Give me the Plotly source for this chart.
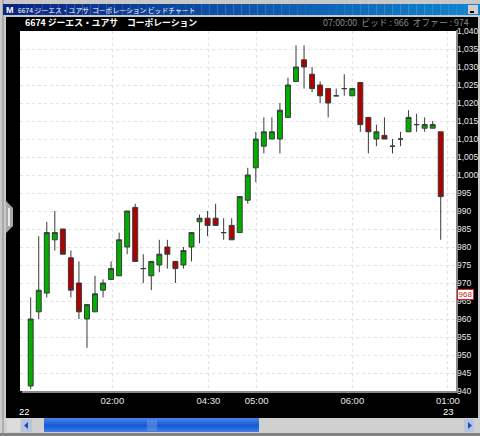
import plotly.graph_objects as go

# Candle data (prices)
opens  = [941.4,962,967.2,982,985,977,970,960,962,968,971,972,980,991,974,972,975,980,976,975,980,987,988,988,984,986,984,993,1002,1008,1010,1010,1016,1026,1032,1028,1025,1024,1022,1024,1022,1025.7,1016,1010,1011,1008,1010,1012,1014,1013,1013,1012]
closes = [960,968,984,984,978,968,962,964,967,970,974,982,990,976,974,976,978,978,974,979,984,988,986,986,984,982,994,1000,1010,1012,1012,1018,1025,1030,1030,1024,1022,1020,1022,1024,1024,1014,1012,1012,1010,1008,1010,1016,1014,1014,1014,994]
highs  = [966,983,987,990,985,979,976,964,972,971,976,984,990,992,978,976,982,982,976,980,984,989,990,992,988,988,994,1002,1012,1016,1016,1020,1027,1036,1036,1030,1026,1024,1024,1028,1024,1025.7,1016,1014,1016,1010,1012,1018,1017,1016,1015,1012]
lows   = [940.5,960,966,979,978,966,960,952,962,966,971,972,978,976,970,968,973,974,970,974,976,981,983,986,982,982,984,992,998,1006,1010,1006,1016,1026,1024,1023,1020,1016,1022,1022,1022,1012,1006,1008,1010,1006,1008,1012,1012,1012,1013,982]
candle_index = list(range(len(opens)))

price_ticks = list(range(940, 1045, 5))
time_tick_pos = [10.15, 22.1, 28.1, 40.0, 51.9]
time_tick_labels = ["02:00", "04:30", "05:00", "06:00", "01:00"]

W, H = 480, 436
PL, PR, PT, PB = 20, 456, 31, 391


def lerp(c1, c2, t):
    return "rgb(%d,%d,%d)" % tuple(round(a + (b - a) * t) for a, b in zip(c1, c2))


fig = go.Figure(go.Candlestick(
    x=candle_index, open=opens, high=highs, low=lows, close=closes,
    whiskerwidth=0,
    increasing=dict(fillcolor="#00AE00", line=dict(color="#3a3a3a", width=1)),
    decreasing=dict(fillcolor="#B00000", line=dict(color="#3a3a3a", width=1)),
    hoverinfo="skip", showlegend=False,
))

shapes = []


def rect(x0, y0, x1, y1, color, layer="above"):
    shapes.append(dict(type="rect", xref="paper", yref="paper", layer=layer,
                       x0=x0 / W, x1=x1 / W, y0=1 - y0 / H, y1=1 - y1 / H,
                       fillcolor=color, line=dict(width=0)))


def line(x0, y0, x1, y1, color, width=1, layer="above"):
    shapes.append(dict(type="line", xref="paper", yref="paper", layer=layer,
                       x0=x0 / W, x1=x1 / W, y0=1 - y0 / H, y1=1 - y1 / H,
                       line=dict(color=color, width=width)))


def poly(points, color):
    d = "M " + " L ".join("%.5f,%.5f" % (x / W, 1 - y / H) for x, y in points) + " Z"
    shapes.append(dict(type="path", xref="paper", yref="paper", layer="above", path=d,
                       fillcolor=color, line=dict(width=0)))


# Window frame
rect(0, 0, W, 17, "#C8C8C8")
rect(0, 0, 6, H, "#C8C8C8")
rect(478, 0, W, H, "#C8C8C8")
rect(0, 418, W, H, "#D0D0D0")
rect(0, 433, W, H, "#808080")
line(3, 0, 3, H, "#8a8a8a")
# Title bar gradient
steps = 60
for i in range(steps):
    x0 = 3 + (W - 3) * i / steps
    x1 = 3 + (W - 3) * (i + 1) / steps
    rect(x0, 4, x1, 15, lerp((10, 36, 130), (16, 132, 208), i / (steps - 1)))
# Minimize button
rect(468, 5, 478, 14, "#D4D0C8")
line(470, 12, 474, 12, "#000000", 2)
# Left sash tab
poly([(6, 201), (13, 208), (13, 226), (6, 233)], "#A8A8A8")
rect(8, 208, 10, 226, "#E8E8E8")
# Plot shadow
rect(PR, PT - 1, PR + 2, PB + 2, "#8a8a8a")
rect(PL + 2, PB, PR + 2, PB + 2, "#8a8a8a")
# Scrollbar
rect(7, 419, 20, 432, "#DCDCDC")
rect(21, 419, 32, 432, "#B8C4DC")
rect(33, 419, 44, 432, "#D0D0D0")
for i in range(14):
    t = i / 13
    c = lerp((20, 90, 210), (70, 130, 235), abs(t - 0.55) * 1.8)
    rect(44, 418 + i, 259, 419 + i, c)
for gx in range(148, 157, 2):
    line(gx, 420, gx, 431, "#6f9be0")
rect(464, 419, 474, 432, "#B8C4DC")
poly([(468, 422), (472, 425.5), (468, 429)], "#1050C0")
poly([(28, 422), (24, 425.5), (28, 429)], "#1050C0")

anns = []


def label(x, y, text, color="#FFFFFF", size=9.5, anchor="center", family="Liberation Sans"):
    anns.append(dict(xref="paper", yref="paper", x=x / W, y=1 - y / H, text=text,
                     showarrow=False, xanchor=anchor, yanchor="middle",
                     font=dict(color=color, size=size, family=family)))


CJK = "Noto Sans CJK JP"
label(16, 9.5, "6674 ジーエス・ユアサ  コーポレーション ビッドチャート", "#FFFFFF", 6.8, "left", CJK)
label(23, 22.5, "<b>6674 ジーエス・ユアサ　コーポレーション</b>", "#FFFFFF", 8.8, "left", CJK)
label(471, 22.5, "07:00:00  ビッド : 966  オファー : 974", "#8a8a8a", 8.8, "right", CJK)
label(24, 411, "22")
label(448, 411, "23")
anns.append(dict(xref="paper", yref="paper", x=465 / W, y=1 - 294.5 / H, text="968",
                 showarrow=False, xanchor="center", yanchor="middle",
                 font=dict(color="#D02020", size=8, family="Liberation Sans"),
                 bgcolor="#FFFFFF", bordercolor="#D02020", borderwidth=1, borderpad=0,
                 width=15, height=9))
label(9.5, 9.5, "<b>M</b>", "#FFFFFF", 9, "center")

fig.update_layout(
    width=W, height=H, margin=dict(l=0, r=0, t=0, b=0), autosize=False,
    paper_bgcolor="#000000", plot_bgcolor="#FFFFFF", boxgap=0.12,
    shapes=shapes, annotations=anns, showlegend=False,
    xaxis=dict(domain=[PL / W, PR / W], range=[-1.33, 52.9], rangeslider=dict(visible=False),
               automargin=False,
               tickmode="array", tickvals=time_tick_pos, ticktext=time_tick_labels,
               showgrid=True, gridcolor="#E2E2E2", griddash="3px,3px", gridwidth=1,
               zeroline=False, showline=False, ticks="", ticklabelstandoff=2,
               tickfont=dict(color="#E8E8E8", size=9.5, family="Liberation Sans"), tickangle=0),
    yaxis=dict(domain=[1 - PB / H, 1 - PT / H], range=[940, 1040], side="right",
               automargin=False,
               tickmode="array", tickvals=price_ticks, tickformat=",d",
               showgrid=True, gridcolor="#E2E2E2", griddash="3px,3px", gridwidth=1,
               zeroline=False, showline=False, ticks="", ticklabelstandoff=0,
               tickfont=dict(color="#E8E8E8", size=8.5, family="Liberation Sans")),
)

fig.write_html("out.html", config=dict(displayModeBar=False),
               post_script="document.body.style.margin='0';document.documentElement.style.overflow='hidden';")
